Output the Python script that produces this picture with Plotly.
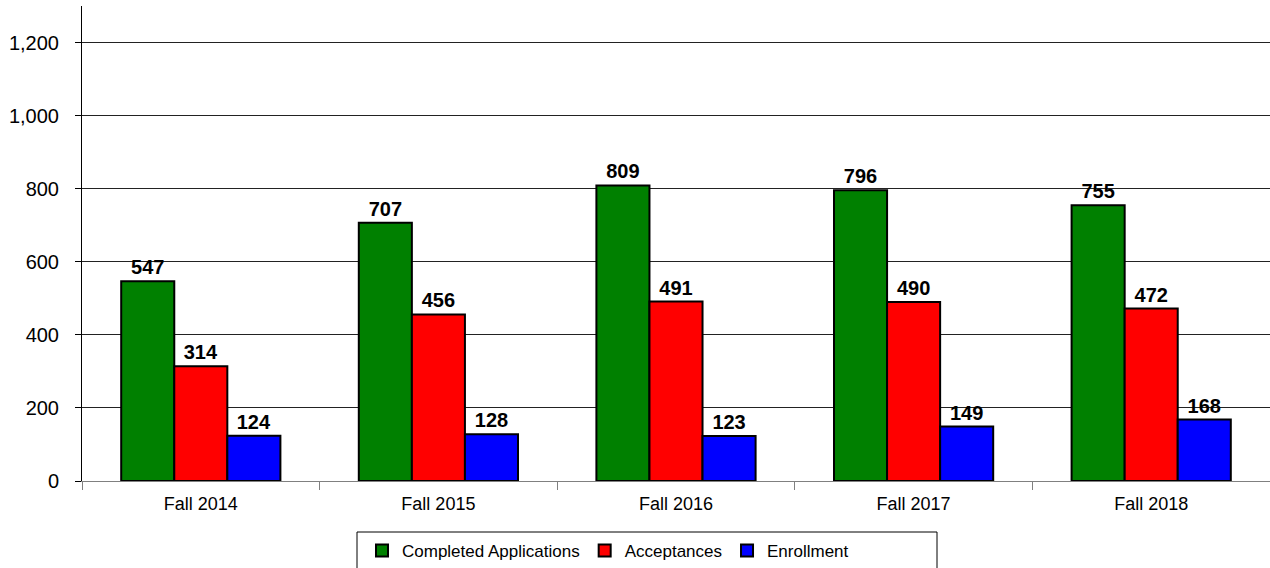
import plotly.graph_objects as go

categories = ["Fall 2014", "Fall 2015", "Fall 2016", "Fall 2017", "Fall 2018"]
completed = [547, 707, 809, 796, 755]
acceptances = [314, 456, 491, 490, 472]
enrollment = [124, 128, 123, 149, 168]
y_ticks = [0, 200, 400, 600, 800, 1000, 1200]

series = [
    ("Completed Applications", completed, "#008000"),
    ("Acceptances", acceptances, "#FF0000"),
    ("Enrollment", enrollment, "#0000FF"),
]

W, H = 1270, 568
L, R, T, B = 82, 0, 6, 87
PW, PH = W - L - R, H - T - B


def px_x(p):
    return (p - L) / PW


def px_y(p):
    return (H - B - p) / PH


fig = go.Figure()
for name, vals, col in series:
    fig.add_trace(go.Bar(
        x=categories, y=vals, name=name,
        marker=dict(color=col, line=dict(color="black", width=2)),
        text=[f"{v:,}" for v in vals], textposition="outside",
        textfont=dict(family="Liberation Sans, Arial", size=20, color="black", weight="bold"),
        cliponaxis=False,
    ))

fig.update_layout(
    barmode="group", bargap=0.33, bargroupgap=0,
    width=W, height=H,
    margin=dict(l=L, r=R, t=T, b=B, autoexpand=False),
    plot_bgcolor="white", paper_bgcolor="white",
    font=dict(family="Liberation Sans, Arial", size=18, color="black"),
    showlegend=True,
    legend=dict(orientation="h", x=px_x(362), xanchor="left", y=px_y(533), yanchor="top",
                borderwidth=0, font=dict(size=17), itemwidth=30, bgcolor="rgba(0,0,0,0)"),
    shapes=[dict(type="rect", xref="paper", yref="paper",
                 x0=px_x(357), x1=px_x(937), y0=px_y(532), y1=px_y(580),
                 line=dict(color="black", width=1), fillcolor="rgba(0,0,0,0)", layer="below")],
)
fig.update_xaxes(showline=True, linecolor="#808080", linewidth=1,
                 ticks="outside", tickson="boundaries", ticklen=8, tickcolor="#808080",
                 ticklabelstandoff=6, tickfont=dict(size=18), showgrid=False)
fig.update_yaxes(range=[0, 1300], tickvals=y_ticks,
                 tickformat=",", showline=True, linecolor="black", linewidth=1,
                 ticks="outside", ticklen=6, tickcolor="black", ticklabelstandoff=12,
                 tickfont=dict(size=20),
                 showgrid=True, gridcolor="#222222", gridwidth=1, zeroline=False)

fig.write_html("out.html", config={"displayModeBar": False},
               post_script="document.body.style.margin='0';document.body.style.overflow='hidden';")
